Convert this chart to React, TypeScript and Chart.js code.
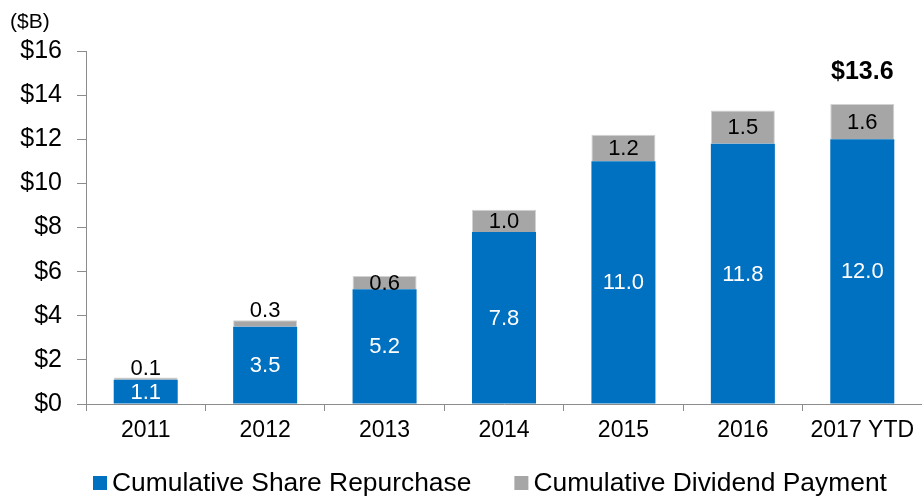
import React, { useEffect, useRef } from "react";
import { Chart, registerables } from "chart.js";

Chart.register(...registerables);

const categories = ["2011", "2012", "2013", "2014", "2015", "2016", "2017 YTD"];
const shareRepurchase = [1.1, 3.5, 5.2, 7.8, 11.0, 11.8, 12.0];
const dividendPayment = [0.1, 0.3, 0.6, 1.0, 1.2, 1.5, 1.6];
const seriesNames = ["Cumulative Share Repurchase", "Cumulative Dividend Payment"];
const totalShownFor = ["2017 YTD"];
const unitLabel = "($B)";
const yMin = 0;
const yMax = 16;
const yStep = 2;

const FONT = '"Liberation Sans", Arial, sans-serif';
const BLUE = "#0070C0";
const GRAY = "#A6A6A6";
const AXIS = "#8C8C8C";

const labelsPlugin = {
  id: "customLabels",
  afterDatasetsDraw(chart: any) {
    const ctx = chart.ctx;
    ctx.save();
    ctx.textAlign = "center";
    ctx.textBaseline = "middle";
    ctx.font = `22px ${FONT}`;
    chart.data.datasets.forEach((ds: any, di: number) => {
      const meta = chart.getDatasetMeta(di);
      meta.data.forEach((el: any, i: number) => {
        const v = ds.data[i];
        const top = Math.min(el.y, el.base);
        const bottom = Math.max(el.y, el.base);
        let y = (top + bottom) / 2;
        if (di === 0) {
          ctx.fillStyle = "#FFFFFF";
        } else {
          ctx.fillStyle = "#000000";
          if (v < 0.5) y = top - 10;
        }
        ctx.fillText(v.toFixed(1), el.x, y + 1);
      });
    });
    // totals
    const lastMeta = chart.getDatasetMeta(chart.data.datasets.length - 1);
    ctx.font = `bold 25px ${FONT}`;
    ctx.fillStyle = "#000000";
    chart.data.labels.forEach((lab: string, i: number) => {
      if (!totalShownFor.includes(lab)) return;
      const total = chart.data.datasets.reduce((s: number, d: any) => s + d.data[i], 0);
      const el = lastMeta.data[i];
      ctx.fillText("$" + total.toFixed(1), el.x, el.y - 32);
    });
    ctx.restore();
  },
  afterDraw(chart: any) {
    const ctx = chart.ctx;
    ctx.save();
    // unit label
    ctx.font = `21px ${FONT}`;
    ctx.fillStyle = "#000000";
    ctx.textAlign = "left";
    ctx.textBaseline = "middle";
    ctx.fillText(unitLabel, 10, 22);
    // legend
    ctx.font = `26.4px ${FONT}`;
    let x = 93;
    const cy = 483;
    chart.data.datasets.forEach((ds: any) => {
      ctx.fillStyle = ds.backgroundColor;
      ctx.fillRect(x, cy - 7, 14, 14);
      ctx.fillStyle = "#000000";
      ctx.fillText(ds.label, x + 19, cy + 1);
      x += 19 + ctx.measureText(ds.label).width + 43;
    });
    ctx.restore();
  },
};

export default function App() {
  const ref = useRef<HTMLCanvasElement>(null);
  useEffect(() => {
    document.body.style.margin = "0";
    const chart = new Chart(ref.current as HTMLCanvasElement, {
      type: "bar",
      data: {
        labels: categories,
        datasets: [
          {
            label: seriesNames[0],
            data: shareRepurchase,
            backgroundColor: BLUE,
            borderWidth: 0,
            barPercentage: 0.536,
            categoryPercentage: 1,
          },
          {
            label: seriesNames[1],
            data: dividendPayment,
            backgroundColor: GRAY,
            borderColor: "#D2D2D2",
            borderWidth: 1,
            barPercentage: 0.536,
            categoryPercentage: 1,
          },
        ],
      },
      options: {
        animation: false,
        responsive: false,
        maintainAspectRatio: false,
        layout: { padding: { top: 51, right: 0, left: 0, bottom: 0 } },
        plugins: { legend: { display: false }, tooltip: { enabled: false } },
        scales: {
          x: {
            stacked: true,
            grid: { drawOnChartArea: false, drawTicks: true, tickLength: 7, color: AXIS, offset: true },
            border: { color: AXIS, width: 1 },
            ticks: { font: { family: FONT, size: 23 }, color: "#000", padding: 6, maxRotation: 0, autoSkip: false },
            afterFit: (s: any) => {
              s.height = 92;
            },
          },
          y: {
            stacked: true,
            min: yMin,
            max: yMax,
            grid: { drawOnChartArea: false, drawTicks: true, tickLength: 9, color: AXIS },
            border: { color: AXIS, width: 1 },
            ticks: {
              stepSize: yStep,
              font: { family: FONT, size: 25 },
              color: "#000",
              padding: 15,
              callback: (v: any) => "$" + v,
            },
            afterFit: (s: any) => {
              s.width = 86;
            },
          },
        },
      },
      plugins: [labelsPlugin],
    });
    return () => chart.destroy();
  }, []);
  return (
    <div style={{ width: 922, height: 496 }}>
      <canvas ref={ref} width={922} height={496} style={{ display: "block" }} />
    </div>
  );
}
